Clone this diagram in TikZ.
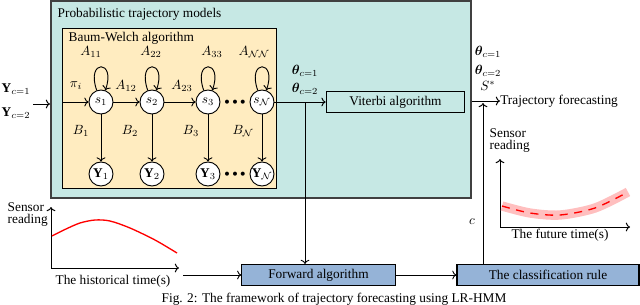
\documentclass[tikz,border=0pt]{standalone}
\usepackage{amsmath,amssymb,bm}
\usepackage{fontspec}
\setmainfont{Liberation Serif}
\usetikzlibrary{arrows.meta,positioning}
\definecolor{ptmteal}{RGB}{198,232,228}
\definecolor{bwyellow}{RGB}{255,236,192}
\definecolor{algblue}{RGB}{149,179,215}

\begin{document}
\begin{tikzpicture}[x=0.75pt,y=-0.75pt,
  state/.style={circle,draw=black,fill=white,line width=0.7pt,minimum size=18pt,inner sep=0pt},
  alg/.style={draw=black,line width=0.8pt,minimum height=15.75pt},
  flow/.style={-{To},line width=0.7pt},
  selfloop/.style={flow,out=110,in=70,looseness=10},
  axis/.style={-{To},line width=0.7pt}
]
\useasboundingbox (0,0) rectangle (640,304);

\draw[draw=black!75,line width=1.2pt,fill=ptmteal] (51,1) rectangle (471,198);
\draw[line width=0.7pt,fill=bwyellow] (62,28) rectangle (276,188);
\node[anchor=west] (ptml) at (53,14) {Probabilistic trajectory models};
\node[anchor=west] (bwl) at (64,38) {Baum-Welch algorithm};

\node[state] (s1) at (101,102) {$s_1$};
\node[state] (s2) at (152,102) {$s_2$};
\node[state] (s3) at (208,102) {$s_3$};
\node[state] (sN) at (262,102) {$s_{\mathcal{N}}$};
\node[font=\scriptsize] (sdots) at (235,102) {$\bullet\bullet\bullet$};
\node[state] (y1) at (101,174) {$\mathbf{Y}_1$};
\node[state] (y2) at (152,174) {$\mathbf{Y}_2$};
\node[state] (y3) at (208,174) {$\mathbf{Y}_3$};
\node[state] (yN) at (262,174) {$\mathbf{Y}_{\mathcal{N}}$};
\node[font=\scriptsize] (ydots) at (235,174) {$\bullet\bullet\bullet$};

\draw[selfloop] (s1) to (s1);
\draw[selfloop] (s2) to (s2);
\draw[selfloop] (s3) to (s3);
\draw[selfloop] (sN) to (sN);
\draw[flow] (s1) -- (s2);
\draw[flow] (s2) -- (s3);
\draw[flow] (s1) -- (y1);
\draw[flow] (s2) -- (y2);
\draw[flow] (s3) -- (y3);
\draw[flow] (sN) -- (yN);

\node (a11) at (91,52) {$A_{11}$};
\node (a22) at (151,52) {$A_{22}$};
\node (a33) at (212,52) {$A_{33}$};
\node (aNN) at (254,52) {$A_{\mathcal{N}\mathcal{N}}$};
\node (a12) at (126,86) {$A_{12}$};
\node (a23) at (182,86) {$A_{23}$};
\node (pii) at (76,86) {$\pi_i$};
\node (b1) at (81,131) {$B_1$};
\node (b2) at (130,131) {$B_2$};
\node (b3) at (191,131) {$B_3$};
\node (bN) at (243,131) {$B_{\mathcal{N}}$};

\coordinate (pin) at (62,102);
\draw[flow] (pin) -- (s1);
\node (yc1) at (16,89) {$\mathbf{Y}_{c=1}$};
\node (yc2) at (16,113) {$\mathbf{Y}_{c=2}$};
\coordinate (yin) at (33,104);
\coordinate (ptmW) at (50,104);
\draw[flow] (yin) -- (ptmW);

\node[alg,fill=ptmteal,minimum width=104pt] (vit) at (395.5,102) {Viterbi algorithm};
\node (th1) at (305,71) {$\bm{\theta}_{c=1}$};
\node (th2) at (305,89) {$\bm{\theta}_{c=2}$};
\draw[flow] (sN) -- (vit);
\coordinate (jn) at (305,102);
\node[alg,fill=algblue,minimum width=115pt] (fwd) at (318.5,275) {Forward algorithm};
\draw[flow] (jn) -- (jn |- fwd.north);
\node[alg,fill=algblue,minimum width=136.5pt] (cls) at (548,275) {The classification rule};
\draw[flow] (fwd) -- (cls);

\node[anchor=west,inner sep=0pt] (tf) at (500,101) {Trajectory forecasting};
\coordinate (ptmE) at (472,101);
\draw[flow] (ptmE) -- (tf);
\node (oth1) at (488,52) {$\bm{\theta}_{c=1}$};
\node (oth2) at (488,71) {$\bm{\theta}_{c=2}$};
\node (sstar) at (488,86) {$S^*$};
\coordinate (cup) at (483,103);
\draw[flow] (cls.north -| cup) -- (cup);
\node (cl) at (472,222) {$c$};

% historical reading
\coordinate (lo) at (51,268);
\draw[axis] (lo) -- (51,207);
\draw[axis] (lo) -- (179,268);
\draw[red,line width=1pt] plot[smooth] coordinates {(52,236) (66,229) (80,223) (95,220) (110,221) (130,228) (155,240) (177,253)};
\node[anchor=west,align=left] (lsr) at (3,215) {Sensor\\[-3pt]reading};
\node (lht) at (113,281) {The historical time(s)};
\coordinate (hout) at (183,275);
\draw[flow] (hout) -- (fwd);

% future reading
\coordinate (ro) at (500,227);
\draw[axis] (ro) -- (500,159);
\draw[axis] (ro) -- (630,227);
\draw[red!25,line width=7pt] plot[smooth] coordinates {(502,206) (530,213) (560,215) (595,208) (628,192)};
\draw[red,line width=1pt,dash pattern=on 6pt off 5pt] plot[smooth] coordinates {(502,206) (530,213) (560,215) (595,208) (628,192)};
\node[anchor=west,align=left] (rsr) at (485,141) {Sensor\\[-3pt]reading};
\node (rft) at (560,235) {The future time(s)};

\node[anchor=base] (cap) at (334,302) {Fig. 2: The framework of trajectory forecasting using LR-HMM};
\end{tikzpicture}
\end{document}
